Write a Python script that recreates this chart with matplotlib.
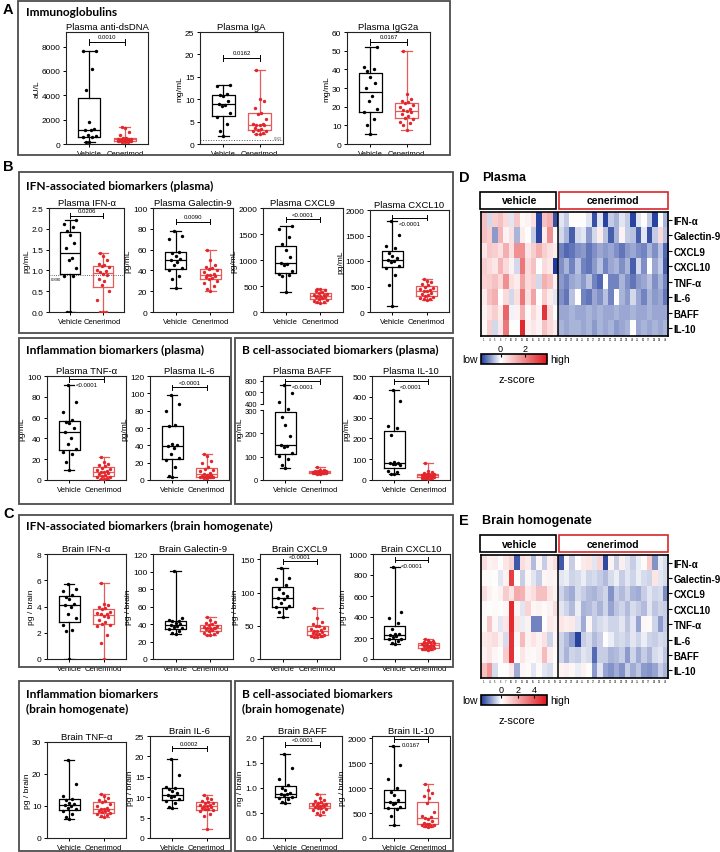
import numpy as np
import matplotlib
matplotlib.use('Agg')
import matplotlib.pyplot as plt
from matplotlib.colors import LinearSegmentedColormap, Normalize
from matplotlib.patches import Rectangle

plt.rcParams['font.family'] = ['Liberation Sans', 'DejaVu Sans']

# ---- box plot data ----
dsdna_veh = [7650, 7600, 6150, 4400, 1800, 1200, 1150, 1150, 700, 650, 600, 600, 200, 150]
dsdna_cen = [1400, 1350, 1000, 700, 500, 480, 450, 420, 400, 380, 360, 350, 330, 300, 280, 250, 230, 200, 180, 150]
iga_veh = [13.2, 13.0, 11.2, 11.0, 10.8, 9.5, 9.0, 8.8, 8.5, 7.0, 6.0, 4.5, 3.0, 1.8]
iga_cen = [16.5, 10.0, 9.5, 8.0, 7.0, 6.8, 5.5, 4.5, 4.5, 4.3, 4.3, 4.2, 3.5, 3.3, 3.2, 3.0, 2.8, 2.5, 2.3, 2.2]
igg_veh = [52, 41, 40, 39, 36, 32.5, 30, 25.5, 23, 18.5, 17, 13.5, 10, 5.2]
igg_cen = [50, 27, 24, 23, 22.5, 22, 21, 20, 18.5, 18, 17.5, 17, 16, 15, 14, 13.5, 12, 11, 10, 7.5]

p_ifn_veh = [2.2, 2.12, 2.05, 1.95, 1.85, 1.65, 1.55, 1.3, 1.25, 1.05, 0.87, 0.87, 0.0, 0.0]
p_ifn_cen = [1.42, 1.35, 1.25, 1.15, 1.12, 1.1, 1.08, 1.0, 0.98, 0.95, 0.92, 0.88, 0.8, 0.75, 0.65, 0.5, 0.3, 0.0, 0.0, 0.0]
p_gal_veh = [78, 73, 70, 58, 57, 54, 51, 50, 48, 45, 42, 40, 35, 32, 23]
p_gal_cen = [60, 50, 45, 43, 42, 41, 40, 38, 37, 36, 36, 35, 34, 33, 32, 30, 28, 25, 22, 20]
p_cxcl9_veh = [1650, 1600, 1450, 1300, 1200, 1050, 950, 920, 900, 780, 740, 720, 700, 380]
p_cxcl9_cen = [450, 440, 430, 400, 380, 360, 340, 330, 320, 310, 300, 290, 280, 270, 250, 230, 210, 200, 190, 180]
p_cxcl10_veh = [1790, 1510, 1300, 1250, 1150, 1100, 1050, 1020, 1000, 980, 900, 860, 720, 530, 120]
p_cxcl10_cen = [650, 600, 580, 540, 520, 500, 480, 450, 430, 420, 410, 380, 350, 330, 320, 300, 280, 260, 250, 240]
p_tnf_veh = [91, 75, 65, 58, 56, 55, 50, 46, 40, 35, 30, 27, 25, 17, 10]
p_tnf_cen = [22, 17, 15, 14, 13, 12, 11, 10, 9, 8, 8, 7, 6, 5, 4, 3, 2.5, 2, 1, 0.5]
p_il6_veh = [98, 88, 80, 63, 62, 42, 40, 39, 37, 30, 25, 23, 15, 5, 4]
p_il6_cen = [30, 28, 22, 20, 15, 13, 12, 10, 8, 7, 6, 6, 5, 5, 4, 4, 3, 3, 2, 2]
p_baff_veh = [720, 590, 420, 310, 270, 235, 190, 150, 145, 140, 115, 105, 90, 65, 50]
p_baff_cen = [55, 45, 42, 40, 40, 38, 37, 36, 35, 35, 34, 33, 32, 31, 30, 30, 29, 28, 27, 25]
p_il10_veh = [432, 380, 262, 250, 218, 85, 82, 80, 78, 75, 72, 45, 38, 30, 27]
p_il10_cen = [82, 45, 38, 32, 30, 28, 27, 25, 24, 23, 22, 21, 20, 18, 16, 15, 12, 10, 8, 5]

b_ifn_veh = [5.7, 5.3, 5.2, 4.9, 4.7, 4.6, 4.2, 4.1, 4.0, 3.4, 3.1, 2.6, 2.2, 2.1, 0.0]
b_ifn_cen = [5.8, 4.2, 4.1, 4.0, 3.9, 3.8, 3.6, 3.5, 3.45, 3.4, 3.3, 3.2, 3.0, 2.8, 2.7, 2.6, 2.5, 1.8, 1.2, 0.0]
b_gal_veh = [101, 47, 45, 44, 43, 41, 40, 39, 38, 37, 35, 34, 32, 30, 29]
b_gal_cen = [48, 45, 42, 41, 40, 39, 38, 37, 36, 36, 35, 35, 34, 33, 32, 31, 30, 29, 28, 28]
b_cxcl9_veh = [137, 122, 120, 112, 105, 100, 95, 92, 90, 85, 80, 78, 77, 70, 63]
b_cxcl9_cen = [77, 62, 55, 52, 50, 49, 47, 45, 43, 42, 42, 40, 39, 38, 37, 36, 35, 34, 33, 33]
b_cxcl10_veh = [875, 445, 390, 340, 290, 240, 235, 232, 220, 210, 195, 190, 175, 150, 140]
b_cxcl10_cen = [195, 185, 175, 165, 160, 155, 150, 140, 135, 130, 128, 125, 120, 115, 110, 105, 100, 98, 95, 90]
b_tnf_veh = [24.5, 17, 13, 12.3, 12, 11, 10.5, 10.2, 10, 9.5, 9, 8.5, 7.5, 6.5, 6]
b_tnf_cen = [13.7, 13, 12.5, 12, 11.5, 11.3, 10.5, 10, 9.5, 9.2, 9, 8.8, 8.5, 8.3, 8, 7.8, 7.5, 7.2, 7, 6.5]
b_il6_veh = [19.4, 15.5, 12.5, 12.3, 12.0, 11.5, 11, 10.5, 10.3, 10, 9.5, 9, 8.5, 7.5, 7.3]
b_il6_cen = [10.5, 9.7, 9.5, 9.0, 8.8, 8.7, 8.5, 8.2, 8.0, 7.9, 7.8, 7.6, 7.4, 7.2, 7.0, 6.8, 6.5, 6.0, 5.5, 2.2]
b_baff_veh = [1.67, 1.4, 1.17, 1.05, 1.0, 0.95, 0.9, 0.88, 0.87, 0.85, 0.82, 0.8, 0.78, 0.72, 0.7]
b_baff_cen = [0.87, 0.8, 0.75, 0.73, 0.72, 0.7, 0.68, 0.67, 0.66, 0.65, 0.64, 0.63, 0.62, 0.6, 0.6, 0.58, 0.55, 0.52, 0.5, 0.45]
b_il10_veh = [1840, 1460, 1190, 1000, 930, 870, 760, 720, 700, 680, 620, 600, 580, 450, 270]
b_il10_cen = [1080, 960, 900, 840, 800, 700, 520, 450, 420, 400, 390, 350, 300, 290, 280, 270, 260, 250, 240, 230]

# ---- heatmap data (z-scores) ----
markers = ['IFN-α', 'Galectin-9', 'CXCL9', 'CXCL10', 'TNF-α', 'IL-6', 'BAFF', 'IL-10']
veh_ids = [1, 4, 5, 6, 7, 10, 12, 13, 14, 15, 16, 17, 18, 19]
cen_ids = list(range(21, 41))

plasma_veh = [
    [1.0, -0.3, 0.8, 1.0, 0.6, -0.2, 0.9, 0.1, 0.2, 0.5, -1.5, 1.0, 1.3, -1.4],
    [1.0, 0.8, -0.8, 1.2, 0.2, 0.5, -0.6, 0.3, 0.0, -0.4, -1.5, 0.3, 1.8, 0.0],
    [0.4, 0.9, 0.8, 0.5, 1.3, 0.5, 1.8, 1.8, 0.4, 0.8, 1.3, 0.8, 0.5, 0.3],
    [0.8, 0.6, 0.4, 1.2, 0.6, 0.2, -0.3, 2.2, 0.6, 1.0, 0.0, 0.6, 0.4, -1.6],
    [0.7, 0.8, 1.0, 0.6, 1.8, 0.5, 0.3, 1.5, 0.6, 0.8, -0.3, 1.3, 1.0, 0.2],
    [0.3, 1.0, 1.3, 0.0, 0.6, -0.3, 0.5, 2.2, 0.5, 1.5, 0.0, 0.8, 0.3, -0.2],
    [0.2, 0.5, 0.8, 0.3, 2.5, -0.1, 0.2, 1.3, 0.1, 0.6, 0.2, 3.3, 0.6, 0.0],
    [0.1, 0.8, -0.3, 0.4, 2.2, 0.0, 0.0, 3.5, 0.2, 0.4, 0.2, 1.0, 0.6, 0.3],
]
plasma_cen = [
    [-0.2, -0.4, 0.0, 0.0, 0.0, -0.2, -1.4, -0.2, -1.5, -0.4, -0.6, -0.2, -0.4, -1.5, -0.2, 0.0, -0.4, -1.5, 0.0, -0.6],
    [-0.3, -0.6, -1.3, -0.3, -0.2, -0.8, -0.3, 0.3, -0.5, -1.3, -0.6, 0.2, -0.4, -0.5, -1.3, -0.2, -1.4, -0.4, 0.6, -0.5],
    [-1.0, -1.2, -1.1, -0.9, -0.8, -1.1, -0.9, -0.7, -0.8, -0.7, -0.9, -1.1, -0.8, -0.7, -0.9, -1.0, -0.6, -0.9, -0.5, -1.2],
    [-0.9, -0.6, -1.0, -0.5, -1.0, -1.1, -0.8, -0.5, -1.0, -0.7, -0.6, -0.9, -0.6, -1.3, -0.3, -0.9, 0.0, -0.7, -0.4, -1.3],
    [-0.8, -1.0, -0.7, -0.6, -0.8, -0.5, -1.0, -1.2, 0.0, -1.0, -1.0, -0.6, -0.9, -1.1, -0.8, -0.7, -0.5, -0.9, -0.6, -1.0],
    [-0.9, -1.1, -0.5, 0.0, -1.0, -1.1, -0.7, -0.9, -0.5, -1.0, 0.0, -0.6, -0.8, -0.3, -0.7, -1.0, -0.6, -0.8, -0.7, -1.1],
    [-0.7, -0.7, -0.6, -0.7, -0.7, -0.6, -0.7, -0.6, -0.7, -0.7, -0.6, -0.7, -0.7, -0.6, -0.7, -0.7, -0.6, -0.7, -0.7, -0.7],
    [-0.6, -0.7, -0.6, -0.6, -0.7, -0.6, -0.8, -0.6, -0.7, -0.6, -0.8, -0.7, -0.6, 0.0, -0.7, -0.6, -0.7, -0.6, -0.7, -0.6],
]
brain_veh = [
    [0.8, 0.3, 0.4, 0.0, 0.6, 1.0, -2.0, 0.8, 0.5, -0.8, 0.2, -0.6, 0.4, 0.8],
    [0.1, 0.1, 0.0, -0.3, 0.3, 4.5, 0.0, -0.6, 0.2, -0.3, -0.6, 0.2, 0.3, 0.2],
    [0.8, 0.3, 0.1, 0.3, 1.2, 0.6, 2.0, 1.8, 0.5, 0.8, 1.5, 1.5, 0.6, 0.3],
    [0.1, 0.0, 0.1, 0.0, 0.2, 5.0, 0.2, -0.3, 1.0, 0.2, 0.3, 0.1, 0.3, 0.8],
    [0.1, 1.3, 0.2, -0.3, 0.6, 5.0, 0.6, -0.2, 0.3, -1.5, -1.5, 0.0, 0.5, 0.3],
    [0.5, 0.6, 0.8, 0.3, -0.4, 4.8, 0.2, 1.6, 0.3, 0.6, 0.3, 0.7, -0.5, 0.2],
    [0.3, 0.6, 0.2, 0.0, 1.2, 4.8, 0.0, 0.6, 0.2, 0.1, 0.3, 1.6, 0.4, 0.0],
    [1.5, 2.5, -0.4, 0.0, 0.0, 0.5, -1.0, 0.2, 0.1, -0.3, 0.1, -0.3, -0.4, 0.1],
]
brain_cen = [
    [-2.0, 0.2, -0.6, 0.0, 0.5, 0.6, -0.3, 1.0, -2.2, 0.3, -0.6, 0.4, -0.3, -0.6, -0.2, 0.1, 1.2, -1.3, -0.2, -0.4],
    [-0.3, -0.2, -0.5, -0.4, -0.2, -0.5, -0.4, -0.6, -0.8, -0.4, -0.2, -0.6, -0.3, -0.5, -0.2, -0.4, -0.5, 0.6, -0.3, -0.4],
    [-0.5, -0.8, -1.0, -0.4, -0.6, -0.8, -0.9, -0.7, -0.5, -1.3, -0.6, -0.8, -0.5, -0.9, -1.0, -0.6, -0.3, -0.5, -0.4, -1.4],
    [-0.3, -0.5, -0.8, -0.2, -0.9, -0.8, -0.6, -0.9, -0.5, -1.1, -0.7, -0.5, -0.8, -0.4, -0.6, -0.8, -0.3, -0.7, -0.5, -0.6],
    [0.6, 0.4, 0.5, -0.3, -1.0, 0.2, -0.6, -0.4, -0.3, -0.5, -0.5, -0.3, -0.7, -0.3, -1.1, 0.2, 0.1, -0.5, -1.2, -0.6],
    [-0.5, -0.8, -1.2, -2.3, -0.6, -0.4, -0.8, -0.6, 0.0, -0.2, -0.5, -0.4, -0.6, -0.3, -0.5, -0.2, -0.5, -0.6, -0.4, -0.5],
    [-0.5, -0.9, -0.5, -0.6, -0.3, -0.4, -1.8, -0.6, -0.6, -0.9, -0.8, -0.6, -1.2, -0.5, -1.0, -0.6, -0.9, -0.4, -0.3, -0.7],
    [0.3, 0.4, 0.2, -0.2, 0.3, 0.0, -1.2, -0.3, -1.1, -1.3, -1.0, -1.3, -0.6, -1.0, -0.7, -1.2, -1.3, -1.1, -0.6, -0.9],
]

W, H = 720, 853
RED = '#e3262b'
BOXRED = '#e65a5a'
FRAME = '#4d4d4d'

fig = plt.figure(figsize=(W / 100, H / 100), dpi=100)


def px_axes(x0, y0, x1, y1):
    return fig.add_axes([x0 / W, 1 - y1 / H, (x1 - x0) / W, (y1 - y0) / H])


def ftext(x, y, s, **kw):
    fig.text(x / W, 1 - y / H, s, **kw)


def frame(x0, y0, x1, y1, col=FRAME, lw=1.3):
    fig.patches.append(Rectangle((x0 / W, 1 - y1 / H), (x1 - x0) / W, (y1 - y0) / H,
                                 transform=fig.transFigure, fill=False, edgecolor=col, lw=lw))


def spread(vals):
    pattern = [0.0, -0.09, 0.09, -0.18, 0.18, -0.04, 0.04, -0.13, 0.13]
    order = np.argsort(vals)
    off = np.zeros(len(vals))
    for k, i in enumerate(order):
        off[i] = pattern[k % len(pattern)]
    return off


def boxpanel(box, veh, cen, title, ylabel, ylim, yticks, pval=None, ph=0.9, above=True):
    ax = px_axes(*box)
    for pos, vals, col, dotc in [(1, veh, 'black', 'black'), (2, cen, BOXRED, RED)]:
        kw = dict(color=col, lw=0.9)
        ax.boxplot([vals], positions=[pos], widths=0.62, whis=(0, 100), showfliers=False,
                   boxprops=kw, whiskerprops=kw, capprops=kw, medianprops=kw, capwidths=0.3)
        ax.scatter(pos + spread(vals), vals, s=6, color=dotc, zorder=3, lw=0)
    ax.set_xlim(0.35, 2.65)
    ax.set_ylim(*ylim)
    ax.set_yticks(yticks)
    ax.set_xticks([1, 2])
    ax.set_xticklabels(['Vehicle', 'Cenerimod'])
    ax.tick_params(labelsize=6, length=2.5, width=0.7, pad=1.5)
    ax.tick_params(axis='x', labelsize=5.5)
    for s in ax.spines.values():
        s.set_linewidth(0.8)
        s.set_color('#222222')
    ax.set_title(title, fontsize=6.8, pad=2)
    ax.set_ylabel(ylabel, fontsize=6, labelpad=1)
    if pval:
        tr = ax.get_xaxis_transform()
        d = 0.025
        ax.plot([1, 2], [ph, ph], color='black', lw=0.7, transform=tr, clip_on=False)
        ax.plot([1, 1], [ph - d, ph + d], color='black', lw=0.7, transform=tr, clip_on=False)
        ax.plot([2, 2], [ph - d, ph + d], color='black', lw=0.7, transform=tr, clip_on=False)
        if above:
            ax.text(1.5, ph + 0.025, pval, ha='center', va='bottom', fontsize=4.3, transform=tr)
        else:
            ax.text(1.5, ph - 0.03, pval, ha='center', va='top', fontsize=4.3, transform=tr)
    return ax


def section(x, y, s):
    ftext(x, y, s, fontsize=8.6, fontweight='bold', family='Lato', va='center')


# ---- panel frames and letters ----
frame(18, 2, 450, 156)
frame(19, 173, 453, 334)
frame(19, 339, 231, 505)
frame(235, 339, 453, 505)
frame(19, 516, 453, 668)
frame(19, 682, 231, 852)
frame(235, 682, 453, 852)

for lx, ly, s in [(3, 10, 'A'), (3, 167, 'B'), (3, 514, 'C'), (459, 178, 'D'), (459, 521, 'E')]:
    ftext(lx, ly, s, fontsize=10.5, fontweight='bold', va='center')

section(26, 12, 'Immunoglobulins')
section(26, 186, 'IFN-associated biomarkers (plasma)')
section(26, 350, 'Inflammation biomarkers (plasma)')
section(242, 350, 'B cell-associated biomarkers (plasma)')
section(26, 526, 'IFN-associated biomarkers (brain homogenate)')
section(26, 695, 'Inflammation biomarkers')
section(26, 709, '(brain homogenate)')
section(242, 695, 'B cell-associated biomarkers')
section(242, 709, '(brain homogenate)')

# ---- A ----
boxpanel((66, 33, 148, 145), dsdna_veh, dsdna_cen, 'Plasma anti-dsDNA', 'aU/L', (0, 9200),
         [0, 2000, 4000, 6000, 8000], '0.0010', 0.91)
ax = boxpanel((200, 33, 283, 145), iga_veh, iga_cen, 'Plasma IgA', 'mg/mL', (0, 25),
              [0, 5, 10, 15, 20, 25], '0.0162', 0.77)
ax.axhline(0.8, color='#555555', lw=0.7, ls=':')
ax.text(2.62, 0.9, '0.80', fontsize=3, ha='right', va='bottom', color='#555555')
boxpanel((347, 33, 430, 145), igg_veh, igg_cen, 'Plasma IgG2a', 'mg/mL', (0, 60),
         [0, 10, 20, 30, 40, 50, 60], '0.0167', 0.91)

# ---- B ----
ax = boxpanel((49, 209, 124, 313), p_ifn_veh, p_ifn_cen, 'Plasma IFN-α', 'pg/mL', (0, 2.5),
              [0, 0.5, 1.0, 1.5, 2.0, 2.5], '0.0206', 0.926)
ax.set_yticklabels(['0.0', '0.5', '1.0', '1.5', '2.0', '2.5'])
ax.axhline(0.89, color='#333333', lw=0.6, ls=':')
ax.text(0.4, 0.85, '0.890', fontsize=3, ha='left', va='top')
boxpanel((153, 209, 233, 313), p_gal_veh, p_gal_cen, 'Plasma Galectin-9', 'pg/mL', (0, 100),
         [0, 20, 40, 60, 80, 100], '0.0090', 0.87)
boxpanel((263, 209, 343, 313), p_cxcl9_veh, p_cxcl9_cen, 'Plasma CXCL9', 'pg/mL', (0, 2000),
         [0, 500, 1000, 1500, 2000], '<0.0001', 0.89)
boxpanel((370, 211, 449, 313), p_cxcl10_veh, p_cxcl10_cen, 'Plasma CXCL10', 'pg/mL', (0, 2000),
         [0, 500, 1000, 1500, 2000], '<0.0001', 0.926, above=False)

boxpanel((47, 377, 126, 481), p_tnf_veh, p_tnf_cen, 'Plasma TNF-α', 'pg/mL', (0, 100),
         [0, 20, 40, 60, 80, 100], '<0.0001', 0.97, above=False)
boxpanel((150, 377, 229, 481), p_il6_veh, p_il6_cen, 'Plasma IL-6', 'pg/mL', (0, 120),
         [0, 20, 40, 60, 80, 100, 120], '<0.0001', 0.89)


# BAFF axis is broken between 300 and 400 ng/mL
def baff_fwd(v):
    v = np.asarray(v, float)
    return np.where(v <= 300, v, np.where(v >= 400, 328 + (v - 400) * 0.2464, 300 + (v - 300) * 0.28))


def baff_inv(u):
    u = np.asarray(u, float)
    return np.where(u <= 300, u, np.where(u >= 328, 400 + (u - 328) / 0.2464, 300 + (u - 300) / 0.28))


ax = boxpanel((263, 377, 342, 481), p_baff_veh, p_baff_cen, 'Plasma BAFF', 'ng/mL', (0, 904),
              [0, 100, 200, 300, 400, 600, 800], '<0.0001', 0.95, above=False)
ax.set_yscale('function', functions=(baff_fwd, baff_inv))
ax.set_ylim(0, 880)
ax.set_yticks([0, 100, 200, 300, 400, 600, 800])
ax.set_yticklabels(['0', '100', '200', '300', '400', '600', '800'])
ax.yaxis.set_minor_locator(matplotlib.ticker.NullLocator())
ax.tick_params(axis='y', labelsize=5.5)
ax.spines['left'].set_visible(False)
ytr = ax.get_yaxis_transform()
ax.plot([0, 0], [0, 300], color='#222222', lw=0.8, transform=ytr, clip_on=False)
ax.plot([0, 0], [400, 880], color='#222222', lw=0.8, transform=ytr, clip_on=False)

boxpanel((372, 377, 450, 481), p_il10_veh, p_il10_cen, 'Plasma IL-10', 'pg/mL', (0, 500),
         [0, 100, 200, 300, 400, 500], '<0.0001', 0.95, above=False)

# ---- C ----
boxpanel((47, 555, 126, 660), b_ifn_veh, b_ifn_cen, 'Brain IFN-α', 'pg / brain', (0, 8),
         [0, 2, 4, 6, 8])
boxpanel((153, 555, 233, 660), b_gal_veh, b_gal_cen, 'Brain Galectin-9', 'pg / brain', (0, 120),
         [0, 20, 40, 60, 80, 100, 120])
boxpanel((260, 555, 340, 660), b_cxcl9_veh, b_cxcl9_cen, 'Brain CXCL9', 'pg / brain', (0, 158),
         [0, 50, 100, 150], '<0.0001', 0.93)
boxpanel((373, 555, 450, 660), b_cxcl10_veh, b_cxcl10_cen, 'Brain CXCL10', 'pg / brain', (0, 1000),
         [0, 200, 400, 600, 800, 1000], '<0.0001', 0.945, above=False)

boxpanel((47, 743, 126, 839), b_tnf_veh, b_tnf_cen, 'Brain TNF-α', 'pg / brain', (0, 30),
         [0, 10, 20, 30])
boxpanel((150, 737, 229, 839), b_il6_veh, b_il6_cen, 'Brain IL-6', 'pg / brain', (0, 25),
         [0, 5, 10, 15, 20, 25], '0.0002', 0.88)
ax = boxpanel((263, 737, 342, 839), b_baff_veh, b_baff_cen, 'Brain BAFF', 'ng / brain', (0, 2.03),
              [0, 0.5, 1.0, 1.5, 2.0], '<0.0001', 0.915)
ax.set_yticklabels(['0.0', '0.5', '1.0', '1.5', '2.0'])
boxpanel((372, 737, 450, 839), b_il10_veh, b_il10_cen, 'Brain IL-10', 'pg / brain', (0, 2050),
         [0, 500, 1000, 1500, 2000], '0.0167', 0.97, above=False)


# ---- heatmaps D and E ----
def heat(box, veh, cen, vmin, vmax, cticks, hdr_y, cb_y, title, ty):
    x0, y0, x1, y1 = box
    ax = px_axes(*box)
    mat = np.hstack([np.array(veh), np.array(cen)])
    nv = len(veh[0])
    w = -vmin / (vmax - vmin)
    cmap = LinearSegmentedColormap.from_list('zs', [(0, '#1e3a9b'), (w, '#ffffff'), (1, '#e0161b')])
    norm = Normalize(vmin, vmax)
    im = ax.imshow(mat, cmap=cmap, norm=norm, aspect='auto', interpolation='nearest')
    ax.axvline(nv - 0.5, color='black', lw=1.1)
    ax.yaxis.tick_right()
    ax.set_yticks(range(len(markers)))
    ax.set_yticklabels(markers, fontsize=7, fontweight='bold')
    ax.set_xticks(range(mat.shape[1]))
    ax.set_xticklabels(veh_ids + cen_ids, fontsize=1.9)
    ax.tick_params(axis='x', length=0, pad=1)
    ax.tick_params(axis='y', length=3, width=0.8, pad=1)
    for s in ax.spines.values():
        s.set_linewidth(1.2)
    # group header boxes
    xs = x0 + (x1 - x0) * nv / mat.shape[1]
    frame(x0 - 1, hdr_y[0], xs - 2, hdr_y[1], col='black', lw=1.2)
    frame(xs + 1, hdr_y[0], x1, hdr_y[1], col='#d9262b', lw=1.2)
    hy = (hdr_y[0] + hdr_y[1]) / 2
    ftext((x0 + xs) / 2, hy, 'vehicle', fontsize=7.5, fontweight='bold', ha='center', va='center')
    ftext((xs + x1) / 2, hy, 'cenerimod', fontsize=7.5, fontweight='bold', ha='center', va='center')
    # colour bar
    cax = px_axes(481, cb_y, 547, cb_y + 10)
    cb = fig.colorbar(im, cax=cax, orientation='horizontal')
    cb.set_ticks(cticks)
    cax.xaxis.set_ticks_position('top')
    cax.tick_params(labelsize=6.5, length=2, width=0.8, pad=1, direction='in')
    cb.outline.set_linewidth(1.2)
    ftext(478, cb_y + 5, 'low', fontsize=7.5, ha='right', va='center')
    ftext(550, cb_y + 5, 'high', fontsize=7.5, ha='left', va='center')
    ftext(517, cb_y + 25, 'z-score', fontsize=8, ha='center', va='center')
    ftext(482, ty, title, fontsize=9, fontweight='bold', va='center')


heat((481, 213, 668, 337), plasma_veh, plasma_cen, -1.6, 3.8, [0, 2], (193, 210), 355, 'Plasma', 178)
heat((481, 556, 668, 679), brain_veh, brain_cen, -2.4, 5.5, [0, 2, 4], (536, 553), 696,
     'Brain homogenate', 521)

fig.savefig('out.png', dpi=100, facecolor='white')
